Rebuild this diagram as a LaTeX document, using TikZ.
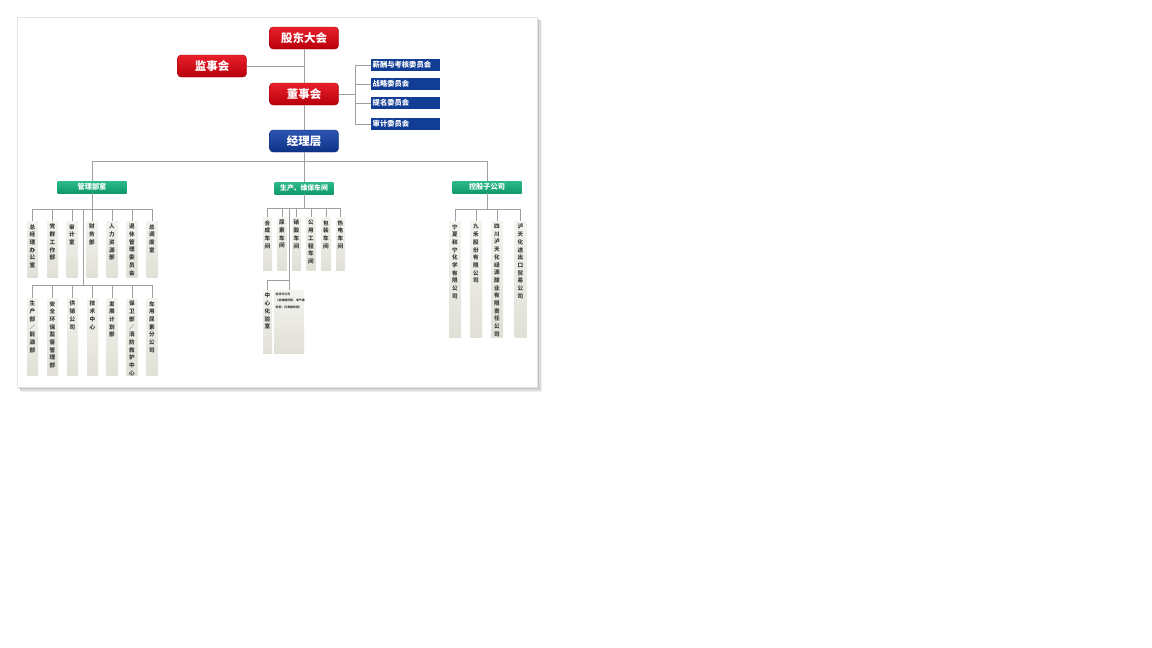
\documentclass[tikz,border=0pt]{standalone}
\usepackage{fontspec}
\setmainfont{Noto Sans CJK SC}
\definecolor{redT}{HTML}{E8202A}
\definecolor{redB}{HTML}{B8000C}
\definecolor{blueT}{HTML}{2C55B2}
\definecolor{blueB}{HTML}{0D3286}
\definecolor{comm}{HTML}{123D94}
\definecolor{greenT}{HTML}{2DBA8A}
\definecolor{greenB}{HTML}{11996A}
\definecolor{linec}{HTML}{A0A0A0}
\definecolor{leafT}{HTML}{F4F4EF}
\definecolor{leafB}{HTML}{E0E0D7}
\definecolor{txt}{HTML}{3A3A3A}
\makeatletter
\newcommand\vstack[1]{\vst@ck#1\@nil}
\def\vst@ck#1{\ifx#1\@nil\else#1\\\expandafter\vst@ck\fi}
\makeatother
\tikzset{
  topbox/.style={rounded corners=3.5pt, minimum width=69pt, minimum height=22pt,
    top color=redT, bottom color=redB, draw=redB!80!black, line width=0.3pt,
    text=white, font=\fontsize{11.5}{12}\selectfont\bfseries, inner sep=0pt},
  mgrbox/.style={topbox, top color=blueT, bottom color=blueB, draw=blueB!80!black},
  commbox/.style={fill=comm, minimum height=11.5pt, text width=66pt, inner xsep=1.5pt,
    inner ysep=0pt, align=left, text=white, font=\fontsize{7.3}{8}\selectfont\bfseries, anchor=west},
  grpbox/.style={top color=greenT, bottom color=greenB, minimum height=12pt,
    text=white, font=\fontsize{7.2}{8}\selectfont\bfseries, inner sep=0pt},
  conn/.style={draw=linec, line width=0.8pt},
  leafbox/.style={top color=leafT, bottom color=leafB, draw=none, inner sep=0pt},
  leaftext/.style={text=txt, font=\fontsize{5.6}{7.7}\selectfont\bfseries, align=center, inner sep=0pt},
}
\newcommand\leafnode[6]{%
  \node[leafbox, minimum width=#5pt, minimum height={(#4-#3)*1pt}, anchor=north] (#1) at (#2,#3) {};
  \node[leaftext, anchor=north] (#1t) at ([yshift=-3pt]#1.north) {\vstack{#6}};
}
\begin{document}
\begin{tikzpicture}[x=1pt,y=-1pt]
\useasboundingbox (0,0) rectangle (1152,648);
\fill[white] (0,0) rectangle (1152,648);
% card with shadow
\fill[black!6] (21,21) rectangle (542,392);
\fill[black!14] (20,20) rectangle (540.5,390.5);
\fill[black!24] (19,19) rectangle (539,389);
\filldraw[fill=white, draw=black!10, line width=0.4pt] (17,17) rectangle (537,387);

% top level
\node[topbox] (gd) at (304,38) {股东大会};
\node[topbox] (js) at (212,66) {监事会};
\node[topbox] (ds) at (304,94) {董事会};
\node[mgrbox] (jl) at (304,141) {经理层};

\node[commbox] (c1) at (371,65) {薪酬与考核委员会};
\node[commbox] (c2) at (371,84) {战略委员会};
\node[commbox] (c3) at (371,103) {提名委员会};
\node[commbox] (c4) at (371,124) {审计委员会};

\draw[conn] (gd.south) -- (ds.north);
\draw[conn] (ds.south) -- (jl.north);
\draw[conn] (js.east) -- (js.east -| gd.south);
\coordinate (br) at (355,94);
\draw[conn] (ds.east) -- (br);
\foreach \c in {c1,c2,c3,c4} \draw[conn] (\c.west) -| (br);

% groups
\node[grpbox, minimum width=69pt] (g1) at (92,187) {管理部室};
\node[grpbox, minimum width=59pt, font=\fontsize{6.8}{8}\selectfont\bfseries] (g2) at (304,188) {生产、维保车间};
\node[grpbox, minimum width=69pt] (g3) at (487,187) {控股子公司};
\coordinate (bus) at (304,161);
\draw[conn] (jl.south) -- (bus);
\draw[conn] (g1.north) |- (bus);
\draw[conn] (g3.north) |- (bus);
\draw[conn] (g2.north) -- (bus);

% management row 1
\leafnode{a1}{32.5}{221}{277}{11}{总经理办公室}
\leafnode{a2}{52.5}{221}{277}{11}{党群工作部}
\leafnode{a3}{72}{221}{277}{11}{审计室}
\leafnode{a4}{92}{221}{277}{11}{财务部}
\leafnode{a5}{112}{221}{277}{11}{人力资源部}
\leafnode{a6}{132}{221}{277}{11}{退休管理委员会}
\leafnode{a7}{152}{221}{277}{11}{总调度室}
% management row 2
\leafnode{b1}{32.5}{298}{375}{11}{生产部／能源部}
\leafnode{b2}{52.5}{298}{375}{11}{安全环保监督管理部}
\leafnode{b3}{72.5}{298}{375}{11}{供销公司}
\leafnode{b4}{92.5}{298}{375}{11}{技术中心}
\leafnode{b5}{112}{298}{375}{11}{发展计划部}
\leafnode{b6}{132}{298}{375}{11}{保卫部／消防救护中心}
\leafnode{b7}{152}{298}{375}{11}{车用尿素分公司}
\coordinate (m1) at (92,209);
\coordinate (m2) at (83,285);
\draw[conn] (g1.south) -- (m1);
\foreach \n in {a1,a2,a3,a4,a5,a6,a7} \draw[conn] (\n.north) |- (m1);
\draw[conn] (m2 |- m1) -- (m2);
\foreach \n in {b1,b2,b3,b4,b5,b6,b7} \draw[conn] (\n.north) |- (m2);

% production
\leafnode{p1}{267.5}{217}{270}{9}{合成车间}
\leafnode{p2}{282}{217}{270}{9}{尿素车间}
\leafnode{p3}{296.5}{217}{270}{9}{硝酸车间}
\leafnode{p4}{311}{217}{270}{9}{公用工程车间}
\leafnode{p5}{326}{217}{270}{9}{包装车间}
\leafnode{p6}{340.5}{217}{270}{9}{热电车间}
\leafnode{q1}{267.5}{290}{353}{9}{中心化验室}
\node[leafbox, minimum width=30pt, minimum height=63pt, anchor=north] (q2) at (289,290) {};
\node[leaftext, anchor=north west, align=left, font=\fontsize{2.9}{6.5}\selectfont\bfseries] (q2t) at (275.5,292.5)
  {检修分公司\\（机械维修部、电气维\\修部、仪表维修部）};
\coordinate (pb) at (304,208);
\coordinate (pc) at (289,280);
\draw[conn] (g2.south) -- (pb);
\foreach \n in {p1,p2,p3,p4,p5,p6} \draw[conn] (\n.north) |- (pb);
\draw[conn] (q2.north |- pb) -- (q2.north);
\draw[conn] (q1.north) |- (pc);

% subsidiaries
\leafnode{s1}{455}{221}{337}{12}{宁夏和宁化学有限公司}
\leafnode{s2}{476}{221}{337}{12}{九禾股份有限公司}
\leafnode{s3}{497}{221}{337}{12}{四川泸天化绿源醇业有限责任公司}
\leafnode{s4}{520.5}{221}{337}{12}{泸天化进出口贸易公司}
\coordinate (sb) at (487,209);
\draw[conn] (g3.south) -- (sb);
\foreach \n in {s1,s2,s3,s4} \draw[conn] (\n.north) |- (sb);
\end{tikzpicture}
\end{document}
